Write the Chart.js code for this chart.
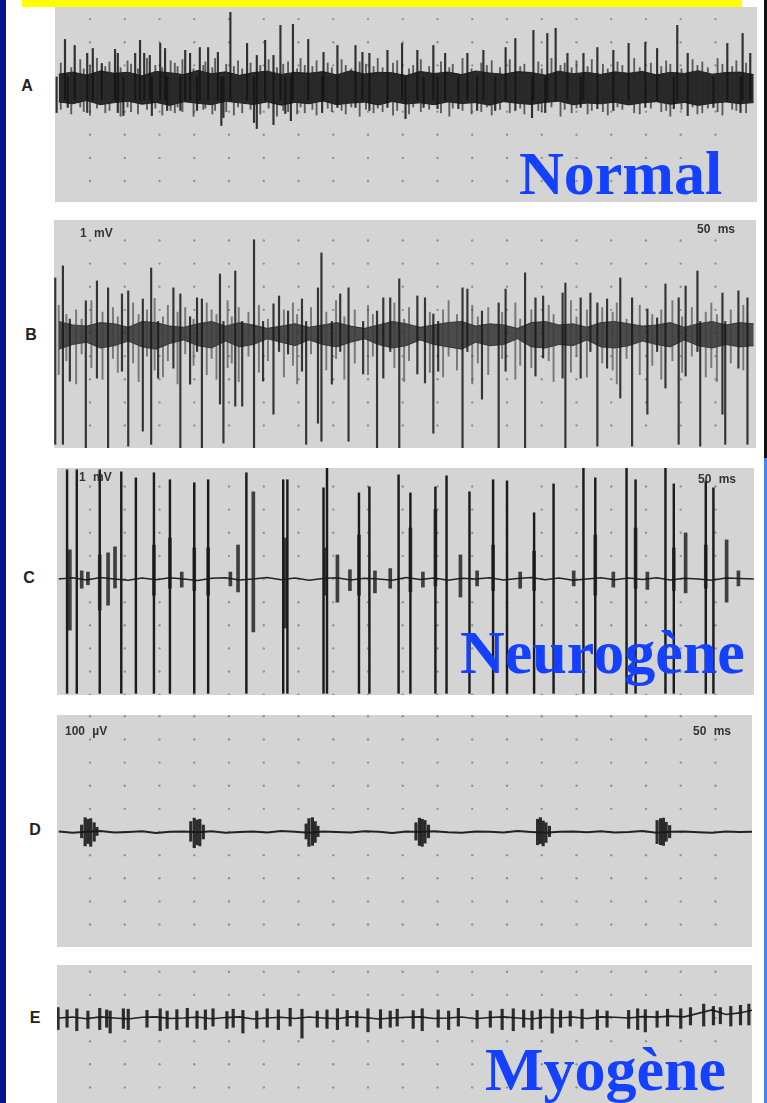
<!DOCTYPE html>
<html>
<head>
<meta charset="utf-8">
<script src="https://cdn.jsdelivr.net/npm/chart.js@4.4.1/dist/chart.umd.min.js"></script>
<style>
  body { margin: 0; background: #fff; }
  #page { position: relative; width: 767px; height: 1103px; overflow: hidden; background: #fff; font-family: "Liberation Sans", Arial, sans-serif; }
  .edge { position: absolute; }
  canvas { position: absolute; }
  .lbl { position: absolute; width: 24px; text-align: center; font-size: 16px; line-height: 18px; font-weight: bold; color: #222; }
  .scale { position: absolute; font-size: 12px; line-height: 12px; font-weight: bold; color: #333; word-spacing: 4px; white-space: nowrap; }
  .big { position: absolute; font-family: "Liberation Serif", "Times New Roman", serif; font-weight: bold; font-size: 62px; line-height: 62px; color: #1440ff; white-space: nowrap; }
</style>
</head>
<body>
<div id="page">
  <div class="edge" style="left:0;top:0;width:6px;height:1103px;background:#08168c"></div>
  <div class="edge" style="left:22px;top:0;width:720px;height:7px;background:#ffff00"></div>
  <div class="edge" style="left:764px;top:0;width:3px;height:458px;background:#111"></div>
  <div class="edge" style="left:764px;top:458px;width:3px;height:645px;background:#4a7ff5"></div>

  <canvas id="panelA"></canvas>
  <canvas id="panelB"></canvas>
  <canvas id="panelC"></canvas>
  <canvas id="panelD"></canvas>
  <canvas id="panelE"></canvas>

  <div class="lbl" style="left:15px;top:77px">A</div>
  <div class="lbl" style="left:19px;top:326px">B</div>
  <div class="lbl" style="left:17px;top:569px">C</div>
  <div class="lbl" style="left:23px;top:821px">D</div>
  <div class="lbl" style="left:23px;top:1009px">E</div>

  <div class="scale" style="left:80px;top:227px">1 mV</div>
  <div class="scale" style="left:697px;top:223px">50 ms</div>
  <div class="scale" style="left:79px;top:471px">1 mV</div>
  <div class="scale" style="left:698px;top:473px">50 ms</div>
  <div class="scale" style="left:65px;top:725px">100 µV</div>
  <div class="scale" style="left:693px;top:725px">50 ms</div>

  <div class="big" style="left:519px;top:142px">Normal</div>
  <div class="big" style="left:460px;top:621px">Neurogène</div>
  <div class="big" style="left:485px;top:1038px">Myogène</div>
</div>

<script>
// time in ms (50 ms per grid division), amplitude in grid divisions (mV), D in µV

const sampleTimes = [-45,-25,-5,15,35,55,75,95,115,135,
    155,175,195,215,235,255,275,295,315,335,
    355,375,395,415,435,455,475,495,515,535,
    555,575,595,615,635,655,675,695,715,735,
    755,775,795,815,835,855,875,895,915,935,
    955];

// A - normal interference pattern
const aBandHi = [0.62,0.71,0.58,0.76,0.66,0.70,0.55,0.74,0.68,0.60,
    0.78,0.64,0.72,0.57,0.69,0.75,0.61,0.70,0.66,0.73,
    0.59,0.77,0.63,0.70,0.68,0.56,0.74,0.65,0.71,0.60,
    0.76,0.67,0.62,0.73,0.69,0.58,0.75,0.64,0.70,0.61,
    0.72,0.66,0.74,0.59,0.70,0.65,0.77,0.62,0.69,0.71,
    0.60];
const aBandLo = [-0.58,-0.66,-0.52,-0.70,-0.61,-0.55,-0.68,-0.60,-0.73,-0.57,
    -0.64,-0.70,-0.55,-0.62,-0.69,-0.58,-0.72,-0.60,-0.66,-0.54,
    -0.70,-0.63,-0.59,-0.71,-0.56,-0.67,-0.62,-0.70,-0.58,-0.65,
    -0.61,-0.72,-0.57,-0.64,-0.69,-0.60,-0.55,-0.70,-0.63,-0.66,
    -0.59,-0.71,-0.62,-0.57,-0.68,-0.60,-0.73,-0.64,-0.58,-0.66,
    -0.61];
const aT = [-48,-36,-32,-22,-4,4,17,36,40,48,
    65,72,78,86,89,101,108,111,130,137,
    144,154,158,170,184,189,192,202,226,236,
    240,252,264,274,281,289,292,314,334,336,
    356,382,392,402,428,449,454,471,480,494,
    500,511,530,543,557,566,583,598,612,636,
    638,655,658,670,687,706,710,730,753,775,
    799,816,840,845,860,897,917,936,939,950];
const aHi = [0.5,2.12,0.5,1.86,1.52,1.73,1.08,1.69,1.52,0.5,
    1.52,2.08,1.52,1.43,0.5,1.95,1.73,0.5,0.5,1.65,
    1.52,0.5,1.77,1.77,1.56,0.5,0.5,3.29,1.95,0.5,
    1.43,2.08,1.43,2.73,0.5,0.5,2.77,2.12,0.5,1.56,
    1.86,1.86,1.56,1.52,1.65,1.95,0.5,1.65,0.5,1.86,
    0.5,1.52,0.5,1.52,0.5,1.65,0.5,1.77,2.16,0.5,
    2.51,0.5,2.38,2.6,1.52,0.5,1.52,1.77,1.65,1.95,
    1.99,1.73,0.5,2.73,1.52,0.5,1.95,0.5,2.38,1.52];
const aLo = [-1.04,-0.5,-0.82,-0.5,-1.04,-0.5,-0.5,-0.5,-1.04,-1.17,
    -0.5,-0.5,-0.5,-0.5,-1.17,-0.5,-0.5,-0.95,-0.95,-0.5,
    -0.5,-0.95,-0.5,-0.5,-0.5,-1.6,-1.26,-0.5,-0.5,-1.47,
    -1.73,-0.5,-1.56,-0.5,-1.08,-1.39,-0.5,-0.5,-1.04,-0.5,
    -0.82,-0.82,-0.5,-0.95,-0.82,-0.5,-1.3,-0.5,-0.82,-0.5,
    -0.87,-0.5,-0.87,-0.5,-0.95,-0.5,-0.95,-0.5,-0.95,-1.26,
    -0.5,-1.04,-0.5,-0.5,-0.5,-0.82,-0.5,-0.87,-0.95,-0.5,
    -0.82,-0.5,-0.87,-0.5,-1.17,-0.82,-0.5,-1.04,-0.5,-0.5];
// medium grey strokes around the band
const aMidT = [-42,-27,-14,-9,0,10,22,28,44,54,
    59,69,82,94,104,116,122,126,133,149,
    163,166,176,180,196,207,213,219,231,245,
    257,269,278,285,298,303,309,320,326,342,
    348,362,368,376,388,397,408,414,421,436,
    442,459,465,476,488,505,517,522,536,549,
    563,571,578,590,604,619,625,645,650,664,
    677,683,693,700,716,722,738,745,759,766,
    783,791,807,822,829,835,851,867,874,881,
    889,903,910,924,930,944];
const aMidHi = [1.1,0.9,1.25,0.85,1.0,1.3,0.95,1.15,0.9,1.2,
    1.05,0.85,1.3,1.0,0.9,1.2,1.1,0.95,1.25,0.85,
    1.0,1.15,0.9,1.3,1.05,0.95,1.2,0.85,1.1,1.0,
    1.25,0.9,1.05,1.15,0.85,1.3,1.0,0.95,1.2,1.1,
    0.9,1.25,1.0,0.85,1.15,1.05,0.95,1.3,0.9,1.1,
    1.2,0.85,1.0,1.25,0.95,1.15,0.9,1.05,1.3,0.85,
    1.1,1.0,1.2,0.9,1.25,0.95,1.05,1.15,0.85,1.3,
    1.0,1.1,0.9,1.2,0.95,1.25,1.05,0.85,1.15,1.0,
    1.3,0.9,1.1,0.95,1.2,1.05,0.85,1.25,1.0,1.15,
    0.9,1.3,1.05,0.95,1.2,1.1];
const aMidLo = [-0.9,-1.1,-0.8,-1.0,-1.15,-0.85,-1.05,-0.95,-1.2,-0.8,
    -1.0,-1.1,-0.9,-0.85,-1.15,-0.95,-1.05,-0.8,-1.0,-1.2,
    -0.9,-0.85,-1.1,-0.95,-1.0,-1.15,-0.8,-1.05,-0.9,-1.1,
    -0.85,-1.2,-0.95,-1.0,-1.1,-0.8,-1.05,-0.9,-1.15,-0.85,
    -1.0,-0.95,-1.1,-0.8,-1.2,-0.9,-1.05,-0.85,-1.0,-1.15,
    -0.95,-1.1,-0.8,-1.0,-0.9,-1.05,-1.2,-0.85,-0.95,-1.1,
    -1.0,-0.8,-1.15,-0.9,-1.05,-0.85,-1.1,-0.95,-1.0,-0.8,
    -1.2,-0.9,-1.05,-0.85,-1.1,-0.95,-1.0,-1.15,-0.8,-0.9,
    -1.05,-1.1,-0.85,-1.0,-0.95,-1.2,-0.9,-0.8,-1.1,-1.05,
    -0.85,-1.0,-1.15,-0.9,-0.95,-1.05];

// B
const bBandHi = [0.5,0.35,0.3,0.45,0.4,0.25,0.5,0.45,0.3,0.25,
    0.4,0.5,0.3,0.45,0.35,0.2,0.3,0.4,0.25,0.35,
    0.45,0.3,0.2,0.35,0.5,0.4,0.25,0.35,0.45,0.5,
    0.3,0.4,0.35,0.2,0.45,0.5,0.35,0.4,0.25,0.45,
    0.5,0.4,0.3,0.35,0.45,0.25,0.4,0.5,0.35,0.45,
    0.4];
const bBandLo = [-0.7,-0.5,-0.4,-0.65,-0.55,-0.35,-0.6,-0.7,-0.45,-0.3,
    -0.55,-0.65,-0.35,-0.6,-0.5,-0.25,-0.4,-0.55,-0.3,-0.5,
    -0.6,-0.4,-0.25,-0.5,-0.65,-0.55,-0.3,-0.5,-0.6,-0.7,
    -0.4,-0.55,-0.5,-0.25,-0.6,-0.65,-0.5,-0.55,-0.3,-0.6,
    -0.65,-0.55,-0.35,-0.5,-0.6,-0.3,-0.55,-0.65,-0.5,-0.6,
    -0.55];
const bT = [-50,-39,-29,-6,10,26,46,55,76,88,
    98,120,130,144,154,161,187,192,209,219,
    236,249,264,272,285,305,311,328,333,348,
    360,372,393,413,422,432,445,471,482,494,
    501,536,543,564,588,598,626,641,652,680,
    684,706,720,730,744,763,780,802,816,828,
    847,857,874,878,910,914,933,946];
const bHi = [2.38,2.9,0.6,1.39,2.25,1.95,1.69,1.82,1.47,2.81,
    0.5,1.95,1.69,0.7,1.52,1.47,2.55,0.5,2.68,0.5,
    4.03,0.5,1.26,1.6,0.95,1.47,0.5,1.95,3.46,0.5,
    1.69,1.95,0.5,0.95,1.52,1.52,2.34,1.6,1.52,0.82,
    0.5,1.95,1.9,0.95,1.3,1.9,2.6,1.52,1.6,1.73,
    2.16,1.52,1.73,1.3,1.47,2.38,1.52,1.04,0.65,2.12,
    1.52,2.03,2.68,0.5,1.73,0.5,1.82,1.52];
const bLo = [-4.81,-4.81,-2.08,-5.02,-1.95,-5.02,-1.65,-4.89,-4.24,-4.81,
    -1.95,-1.52,-4.98,-2.21,-0.8,-5.02,-3.07,-4.76,-3.16,-3.16,
    -5.02,-2.08,-3.51,-0.8,-0.91,-1.65,-4.81,-3.9,-4.68,-2.21,
    -0.8,-4.68,-1.77,-4.98,-1.95,-0.8,-5.02,-1.77,-2.16,-4.33,
    -1.65,-5.02,-0.8,-2.86,-5.02,-1.65,-5.02,-1.86,-1.08,-1.95,
    -5.02,-1.95,-0.8,-4.89,-1.52,-2.81,-4.89,-3.51,-0.8,-2.38,
    -4.81,-1.86,-0.8,-4.89,-3.51,-4.81,-1.52,-4.81];
const bMidT = [-45,-34,-20,-12,2,18,33,40,62,70,
    82,93,105,112,126,137,149,168,175,182,
    198,204,214,228,243,256,279,292,298,318,
    340,354,366,381,400,407,438,452,459,489,
    508,516,528,550,558,573,593,612,619,635,
    660,667,692,700,715,737,752,758,772,791,
    809,822,838,852,866,886,894,902,922,940];
const bMidHi = [1.2,0.8,1.0,0.6,1.4,0.9,1.1,0.7,1.3,0.8,
    1.0,1.5,0.7,1.2,0.9,1.1,0.6,1.3,1.0,0.8,
    1.4,0.7,1.1,0.9,1.2,0.6,1.0,1.3,0.8,1.1,
    0.9,1.4,0.7,1.0,1.2,0.8,1.3,0.6,1.1,0.9,
    1.0,1.4,0.8,1.2,0.7,1.1,0.9,1.3,0.6,1.0,
    1.2,0.8,1.4,0.7,1.0,1.1,0.9,1.3,0.6,1.2,
    0.8,1.0,1.4,0.7,1.1,0.9,1.3,0.8,1.0,1.2];
const bMidLo = [-1.8,-1.2,-2.2,-0.9,-1.5,-2.0,-1.1,-1.7,-1.3,-2.1,
    -1.0,-1.6,-1.9,-1.2,-2.2,-0.9,-1.4,-1.8,-1.1,-2.0,
    -1.5,-1.3,-2.1,-1.0,-1.7,-1.2,-1.9,-1.4,-2.2,-0.9,
    -1.6,-1.1,-2.0,-1.3,-1.8,-1.0,-1.5,-2.1,-1.2,-1.7,
    -1.9,-1.0,-1.6,-2.2,-1.3,-1.8,-1.1,-2.0,-1.4,-1.5,
    -1.2,-2.1,-1.7,-1.0,-1.9,-1.3,-1.6,-2.2,-1.1,-1.8,
    -1.4,-2.0,-1.2,-1.7,-1.0,-1.9,-1.5,-2.1,-1.3,-1.6];

// C - neurogenic, giant potentials
const cBase = [0,0.05,-0.04,0.06,0,-0.05,0.04,-0.03,0.05,0,
    -0.06,0.03,0.05,-0.04,0,0.06,-0.03,0.04,-0.05,0.02,
    0.05,-0.04,0.03,0,-0.05,0.06,-0.02,0.04,-0.05,0.03,
    0,0.05,-0.04,0.02,0.06,-0.03,0.04,-0.05,0,0.05,
    -0.03,0.04,-0.02,0.05,-0.04,0.03,0,-0.05,0.04,0.02,
    0];
const cBigT = [-33,-19,14,45,66,92,115,150,170,225,
    278,284,336,341,387,402,444,461,497,513,
    546,580,600,639,667,710,727,772,785,828,
    840,886,897];
const cBigHi = [4.72,4.72,4.72,4.63,4.37,4.59,4.29,4.16,4.29,4.59,
    4.29,4.29,3.94,4.85,3.72,3.98,4.5,3.72,3.98,4.46,
    3.77,4.29,4.24,2.86,4.11,4.81,4.37,4.85,4.29,4.81,
    4.11,4.24,3.94];
const cBigLo = [-4.94,-4.94,-4.94,-4.94,-4.94,-4.94,-4.94,-4.94,-4.94,-4.94,
    -4.94,-4.94,-4.94,-4.94,-4.94,-4.94,-4.94,-4.94,-4.94,-4.94,
    -4.94,-4.94,-4.94,-4.94,-4.94,-4.94,-4.94,-4.94,-4.94,-4.94,
    -4.94,-4.94,-4.94];
const cSmallT = [-29,-12,-3,14,26,36,92,115,132,150,
    170,202,213,235,281,338,356,374,387,410,
    432,461,479,497,533,557,580,619,639,696,
    727,753,785,802,840,857,886,916,933];
const cSmallHi = [1.26,0.35,0.3,1.04,1.13,1.39,1.47,1.77,0.3,1.34,
    1.34,0.3,1.47,3.77,1.77,1.34,1.04,0.4,1.9,0.35,
    0.45,2.2,0.3,3.0,1.04,0.35,1.47,0.3,1.2,0.35,
    1.9,0.3,2.2,0.3,1.34,1.99,1.47,1.69,0.35];
const cSmallLo = [-2.21,-0.4,-0.25,-1.34,-1.13,-0.39,-0.7,-0.4,-0.35,-0.5,
    -0.7,-0.3,-0.56,-2.29,-2.12,-0.7,-1.0,-0.5,-0.7,-0.6,
    -0.4,-0.55,-0.35,-0.3,-0.78,-0.3,-0.5,-0.4,-0.5,-0.3,
    -0.7,-0.35,-0.4,-0.45,-0.5,-0.6,-0.4,-1.0,-0.3];

// D - single unit discharges (µV)
const dBase = [2,-3,1,4,-2,0,3,-4,1,2,
    -1,3,-3,0,2,-2,4,1,-3,2,
    0,-2,3,1,-4,2,0,3,-1,-3,
    2,1,-2,4,0,-3,1,2,-1,3,
    -2,0,4,-3,1,2,-1,-3,2,0,
    1];
const dT = [-12,-7,-3,1,6,10, 145,150,154,158,163, 311,315,320,324,328,
    469,474,478,482,487, 644,648,652,656,661, 816,821,825,829,834];
const dHi = [30,62,55,58,40,20, 45,60,52,55,30, 35,58,62,45,25,
    40,60,55,50,30, 55,62,48,40,25, 50,58,60,42,28];
const dLo = [-25,-60,-50,-62,-40,-15, -40,-68,-55,-60,-30, -30,-62,-58,-45,-20,
    -35,-58,-62,-48,-25, -55,-50,-60,-45,-20, -50,-55,-58,-40,-25];

// E - myopathic, small short potentials
const eBase = [0,0.04,-0.03,0.05,0,-0.04,0.03,0.05,-0.02,0,
    0.04,-0.03,0.02,0.05,-0.04,0,0.03,-0.02,0.04,0,
    -0.03,0.05,0.02,-0.04,0,0.03,0.05,-0.02,0,0.04,
    -0.03,0.02,0.05,0,-0.04,0.03,0,0.04,-0.02,0.05,
    0.03,0,0.06,0.04,0.08,0.05,0.2,0.35,0.15,0.22,
    0.35];
const eT = [-46,-33,-19,-3,14,24,29,48,55,82,
    101,111,125,140,154,166,177,197,206,220,
    240,255,271,288,305,327,341,356,370,384,
    400,418,432,442,465,478,501,516,530,557,
    576,593,609,624,636,648,665,677,691,708,
    730,744,775,788,799,816,831,850,864,883,
    897,907,922,936,948];
const eHi = [0.45,0.35,0.4,0.3,0.42,0.35,0.3,0.4,0.38,0.33,
    0.4,0.3,0.36,0.42,0.3,0.35,0.4,0.28,0.38,0.33,
    0.3,0.4,0.35,0.42,0.38,0.3,0.35,0.4,0.33,0.3,
    0.4,0.36,0.3,0.38,0.32,0.4,0.35,0.3,0.42,0.33,
    0.3,0.38,0.4,0.35,0.3,0.36,0.4,0.32,0.3,0.38,
    0.35,0.3,0.33,0.4,0.36,0.3,0.38,0.4,0.45,0.6,
    0.5,0.45,0.5,0.55,0.6];
const eLo = [-0.5,-0.4,-0.55,-0.45,-0.5,-0.4,-0.65,-0.45,-0.5,-0.4,
    -0.55,-0.45,-0.5,-0.4,-0.45,-0.5,-0.35,-0.45,-0.4,-0.65,
    -0.45,-0.4,-0.5,-0.35,-0.87,-0.4,-0.45,-0.5,-0.35,-0.4,
    -0.6,-0.45,-0.4,-0.35,-0.45,-0.55,-0.4,-0.5,-0.35,-0.45,
    -0.4,-0.5,-0.55,-0.4,-0.5,-0.45,-0.65,-0.4,-0.35,-0.45,
    -0.5,-0.4,-0.45,-0.5,-0.6,-0.4,-0.35,-0.45,-0.3,-0.35,
    -0.3,-0.25,-0.35,-0.3,-0.3];

// layout of the paper grid
const msPerPx = 50 / 34.75;
const divPx = 23.14;
const firstDotPx = 90;
const gridStepMs = 50;
const gridLastMs = 900;

const panelGrid = {
    id: 'panelGrid',
    beforeDraw(chart, args, opts) {
        const ctx = chart.ctx;
        const area = chart.chartArea;
        const xs = chart.scales.x;
        const ys = chart.scales.y;
        ctx.save();
        ctx.fillStyle = '#d4d4d4';
        ctx.fillRect(area.left, area.top, area.right - area.left, area.bottom - area.top);
        ctx.fillStyle = '#939393';
        for (let t = 0; t <= gridLastMs; t += gridStepMs) {
            for (let v = Math.ceil(ys.min / opts.step) * opts.step; v <= ys.max; v += opts.step) {
                ctx.beginPath();
                ctx.arc(xs.getPixelForValue(t), ys.getPixelForValue(v), 1.2, 0, Math.PI * 2);
                ctx.fill();
            }
        }
        ctx.restore();
    }
};

function spikeSet(ts, his, los, color, thick, order) {
    return {
        type: 'bar',
        data: ts.map((t, i) => ({ x: t, y: [los[i], his[i]] })),
        backgroundColor: color,
        borderWidth: 0,
        barThickness: thick,
        grouped: false,
        order: order || 1
    };
}

function traceLine(ts, ys, color, width) {
    return {
        type: 'line',
        data: ts.map((t, i) => ({ x: t, y: ys[i] })),
        borderColor: color,
        borderWidth: width,
        pointRadius: 0,
        tension: 0,
        fill: false,
        order: 2
    };
}

function bandPair(ts, his, los, color) {
    return [
        {
            type: 'line',
            data: ts.map((t, i) => ({ x: t, y: his[i] })),
            borderColor: color, borderWidth: 1, pointRadius: 0, tension: 0,
            fill: '+1', backgroundColor: color, order: 4
        },
        {
            type: 'line',
            data: ts.map((t, i) => ({ x: t, y: los[i] })),
            borderColor: color, borderWidth: 1, pointRadius: 0, tension: 0,
            fill: false, order: 4
        }
    ];
}

function createPanel(id, box, unit, datasets) {
    const canvas = document.getElementById(id);
    canvas.width = box.w;
    canvas.height = box.h;
    canvas.style.left = box.left + 'px';
    canvas.style.top = box.top + 'px';
    const xMin = (box.left - firstDotPx) * msPerPx;
    const xMax = (box.left + box.w - firstDotPx) * msPerPx;
    const yMax = (box.zero - box.top) / divPx * unit;
    const yMin = -(box.top + box.h - box.zero) / divPx * unit;

    return new Chart(canvas.getContext('2d'), {
        type: 'bar',
        data: { datasets: datasets },
        options: {
            responsive: false,
            animation: false,
            events: [],
            layout: { padding: 0 },
            plugins: {
                legend: { display: false },
                tooltip: { enabled: false },
                panelGrid: { step: unit }
            },
            scales: {
                x: { type: 'linear', display: false, offset: false, min: xMin, max: xMax },
                y: { type: 'linear', display: false, min: yMin, max: yMax }
            }
        },
        plugins: [panelGrid]
    });
}

createPanel('panelA', { left: 55, top: 7, w: 702, h: 195, zero: 88.5 }, 1, [
    ...bandPair(sampleTimes, aBandHi, aBandLo, 'rgba(18,18,18,0.88)'),
    spikeSet(aMidT, aMidHi, aMidLo, 'rgba(40,40,40,0.7)', 1.2, 3),
    spikeSet(aT, aHi, aLo, 'rgba(20,20,20,0.85)', 1.5)
]);

createPanel('panelB', { left: 54, top: 220, w: 702, h: 228, zero: 333 }, 1, [
    ...bandPair(sampleTimes, bBandHi, bBandLo, 'rgba(30,30,30,0.75)'),
    spikeSet(bMidT, bMidHi, bMidLo, 'rgba(60,60,60,0.6)', 1.3, 3),
    spikeSet(bT, bHi, bLo, 'rgba(25,25,25,0.85)', 1.5)
]);

createPanel('panelC', { left: 57, top: 468, w: 697, h: 227, zero: 579 }, 1, [
    traceLine(sampleTimes, cBase, '#222', 1.5),
    spikeSet(cSmallT, cSmallHi, cSmallLo, 'rgba(25,25,25,0.8)', 3),
    spikeSet(cBigT, cBigHi, cBigLo, '#1c1c1c', 1.8)
]);

createPanel('panelD', { left: 57, top: 715, w: 695, h: 232, zero: 832 }, 100, [
    traceLine(sampleTimes, dBase, '#222', 2),
    spikeSet(dT, dHi, dLo, 'rgba(25,25,25,0.9)', 2.5)
]);

createPanel('panelE', { left: 57, top: 965, w: 695, h: 138, zero: 1018 }, 1, [
    traceLine(sampleTimes, eBase, '#222', 1.6),
    spikeSet(eT, eHi, eLo, 'rgba(25,25,25,0.9)', 2.5)
]);
</script>
</body>
</html>
